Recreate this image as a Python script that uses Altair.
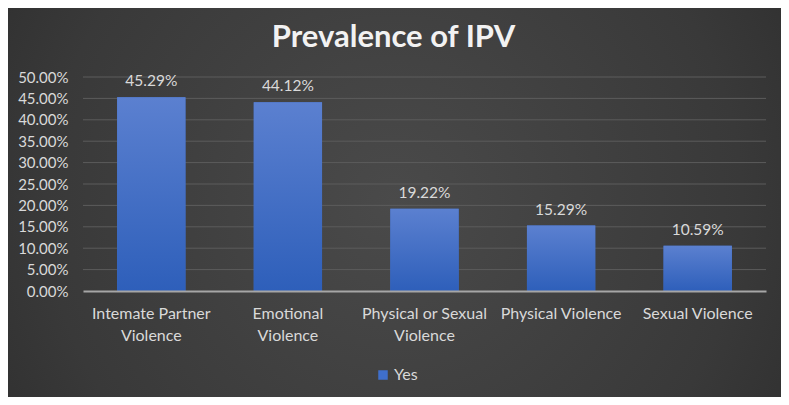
import altair as alt
import pandas as pd

categories = ["Intemate Partner Violence", "Emotional Violence",
              "Physical or Sexual Violence", "Physical Violence", "Sexual Violence"]
label_lines = [["Intemate Partner", "Violence"], ["Emotional", "Violence"],
               ["Physical or Sexual", "Violence"], ["Physical Violence"], ["Sexual Violence"]]
values = [0.4529, 0.4412, 0.1922, 0.1529, 0.1059]
series = "Yes"
grid_values = [0.05, 0.10, 0.15, 0.20, 0.25, 0.30, 0.35, 0.40, 0.45, 0.50]
tick_values = [0.0, 0.05, 0.10, 0.15, 0.20, 0.25, 0.30, 0.35, 0.40, 0.45, 0.50]

df = pd.DataFrame({"category": categories, "value": values, "series": [series] * len(categories)})
grid_df = pd.DataFrame({"g": grid_values})

W, H = 683, 214
PL, PT, PR, PB = 75, 69, 15, 106

parts = []
for c, lines in zip(categories, label_lines):
    arr = "[" + ",".join("'" + l + "'" for l in lines) + "]"
    parts.append(f"datum.value == '{c}' ? {arr} : ")
label_expr = "".join(parts) + "datum.label"

FONT = "Lato"
TXT = "#d9d9d9"

x_enc = alt.X("category:N", sort=categories, title=None,
              scale=alt.Scale(paddingInner=0.5, paddingOuter=0.25),
              axis=alt.Axis(labelExpr=label_expr, labelAngle=0, labelFontSize=16,
                            labelColor=TXT, labelFont=FONT, labelPadding=14,
                            labelLineHeight=22, ticks=False, domain=True,
                            domainColor="#a6a6a6", domainWidth=2, grid=False, zindex=1))
y_scale = alt.Scale(domain=[0, 0.5])
y_axis = alt.Axis(format=".2%", values=tick_values,
                  labelFontSize=15, labelColor=TXT, labelFont=FONT,
                  labelPadding=15, ticks=False, domain=False,
                  grid=False, zindex=1)
y_enc = alt.Y("value:Q", title=None, scale=y_scale, axis=y_axis)

bg = alt.Chart(pd.DataFrame({"a": [0]})).mark_rect(
    fill=alt.Gradient(gradient="radial", x1=0.5, y1=0.5, x2=0.5, y2=0.5, r1=0, r2=0.75,
                      stops=[alt.GradientStop(color="#4a4a4a", offset=0),
                             alt.GradientStop(color="#393939", offset=0.6),
                             alt.GradientStop(color="#272727", offset=1)]),
    clip=False
).encode(x=alt.value(-PL), x2=alt.value(W + PR), y=alt.value(-PT), y2=alt.value(H + PB))

grid = alt.Chart(grid_df).mark_rule(color="#5c5c5c", strokeWidth=1).encode(
    y=alt.Y("g:Q", scale=y_scale, axis=y_axis, title=None), x=alt.value(0), x2=alt.value(W))

bars_legend = alt.Chart(df).mark_bar().encode(
    x=x_enc, y=y_enc,
    color=alt.Color("series:N", scale=alt.Scale(range=["#3f6fcc"]),
                    legend=alt.Legend(title=None, orient="none", legendX=292, legendY=290,
                                      symbolType="square", symbolSize=90, labelFontSize=16,
                                      labelColor=TXT, labelFont=FONT, labelOffset=3,
                                      symbolStrokeWidth=0))
)

bars = alt.Chart(df).mark_bar(
    fill=alt.Gradient(gradient="linear", x1=0, y1=0, x2=0, y2=1,
                      stops=[alt.GradientStop(color="#5b80d0", offset=0),
                             alt.GradientStop(color="#2e5fba", offset=1)])
).encode(x=x_enc, y=y_enc)

labels = alt.Chart(df).mark_text(baseline="bottom", dy=-8, fontSize=15.5, color=TXT, font=FONT).encode(
    x=x_enc, y=y_enc, text=alt.Text("value:Q", format=".2%"))

chart = alt.layer(bg, grid, bars_legend, bars, labels).properties(
    width=W, height=H,
    padding={"left": PL, "top": PT, "right": PR, "bottom": PB},
    autosize=alt.AutoSizeParams(type="none"),
    background="#262626",
    title=alt.Title("Prevalence of IPV", fontSize=31, fontWeight="bold", color="#f2f2f2",
                    font=FONT, anchor="middle", dx=-31, baseline="alphabetic", offset=-70)
).configure_view(stroke=None)

chart.save("out.html", embed_options={"renderer": "svg", "actions": False})
